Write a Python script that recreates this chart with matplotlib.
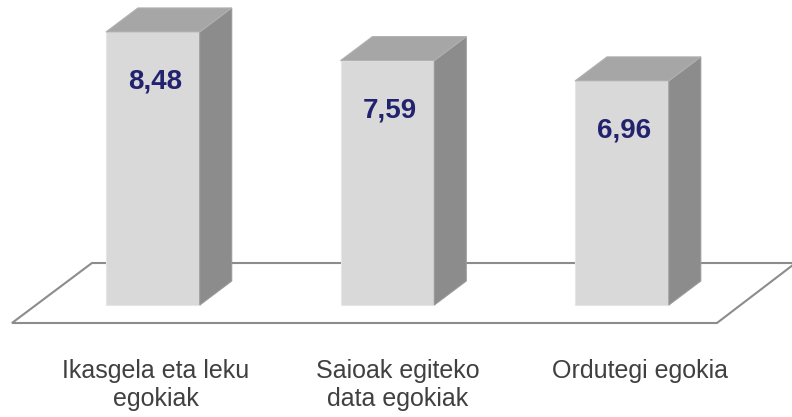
import matplotlib
matplotlib.use("Agg")
import matplotlib.pyplot as plt
from matplotlib.patches import Polygon

categories = ["Ikasgela eta leku\negokiak", "Saioak egiteko\ndata egokiak", "Ordutegi egokia"]
values = [8.48, 7.59, 6.96]
value_labels = ["8,48", "7,59", "6,96"]

plt.rcParams['font.family'] = ['Liberation Sans', 'DejaVu Sans']

fig = plt.figure(figsize=(7.92, 4.17), dpi=100)
ax = fig.add_axes([0, 0, 1, 1])
ax.set_xlim(-0.652, 2.725)
ax.set_ylim(-3.478, 9.472)
ax.axis('off')

# 3d look: depth offset of bars in data units
bar_w = 0.40
dx = 0.136
dy = 0.745

# floor (parallelogram behind the bars)
floor = Polygon([(-0.601, -0.559), (2.405, -0.559), (2.74, 1.304), (-0.260, 1.304)],
                closed=True, facecolor='white', edgecolor='#8c8c8c', lw=1.5, zorder=1)
ax.add_patch(floor)

x = list(range(len(values)))
# front faces
ax.bar(x, values, width=bar_w, color='#d9d9d9', edgecolor='#e6e6e6', lw=0.8, zorder=3)

for xi, v in zip(x, values):
    left = xi - bar_w / 2
    right = xi + bar_w / 2
    # side face
    side = Polygon([(right, 0), (right + dx, dy), (right + dx, v + dy), (right, v)],
                   closed=True, facecolor='#8c8c8c', edgecolor='#999999', lw=0.8, zorder=3)
    ax.add_patch(side)
    # top face
    top = Polygon([(left, v), (right, v), (right + dx, v + dy), (left + dx, v + dy)],
                  closed=True, facecolor='#a6a6a6', edgecolor='#b0b0b0', lw=0.8, zorder=3)
    ax.add_patch(top)

for xi, v, lab in zip(x, values, value_labels):
    ax.text(xi + 0.01, v - 1.55, lab, ha='center', va='center', fontsize=20,
            fontweight='bold', color='#22226e', zorder=5)

# category labels sit a bit wider apart than the bars
for xi, cat in zip(x, categories):
    ax.text(xi * 1.032 + 0.013, -1.67, cat, ha='center', va='top', fontsize=18,
            color='#404040', linespacing=1.2, zorder=5)

plt.savefig('out.png', dpi=100)
